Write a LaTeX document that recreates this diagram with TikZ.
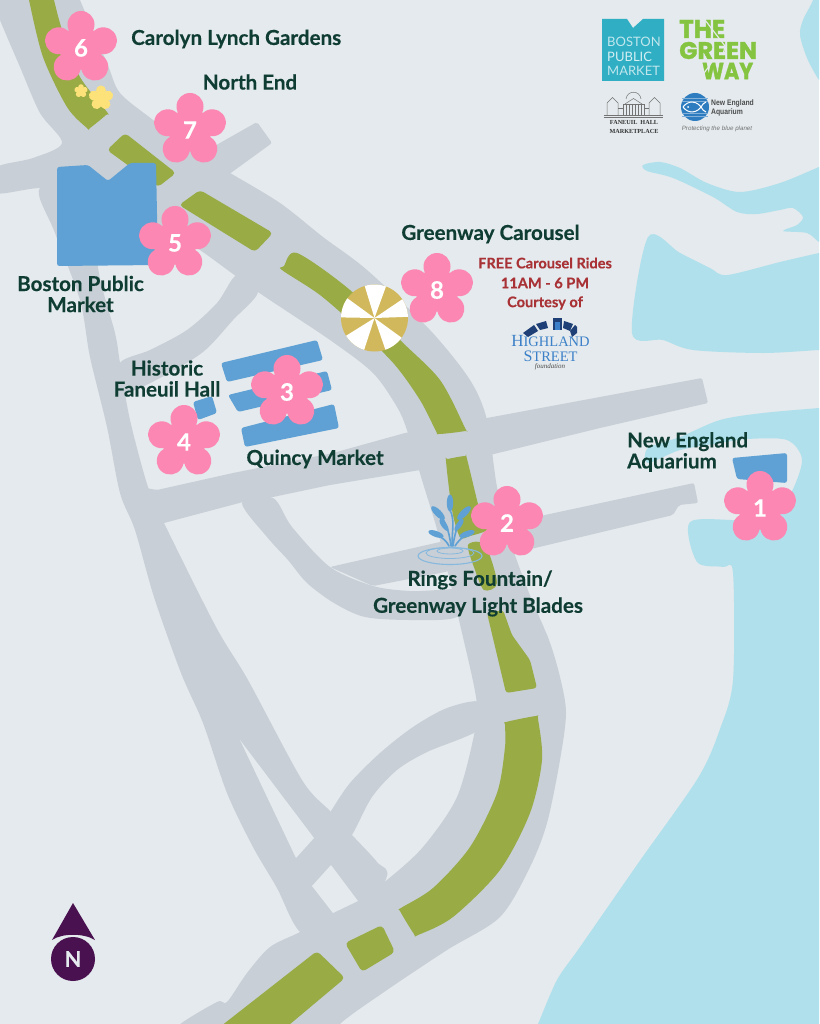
\documentclass[tikz,border=0pt]{standalone}
\usepackage{fontspec}
\setmainfont[BoldFeatures={FakeBold=0.3}]{Lato}
\newfontfamily\serifbit{Liberation Serif}
\newfontfamily\narrowbit{Liberation Sans}
\newfontfamily\heavybit[BoldFeatures={FakeBold=1.5}]{Poppins}
\definecolor{landc}{HTML}{E4EAED}
\definecolor{waterc}{HTML}{B0E0EC}
\definecolor{roadc}{HTML}{C8CFD6}
\definecolor{greenc}{HTML}{98AB45}
\definecolor{blockc}{HTML}{5FA1D4}
\definecolor{pinkc}{HTML}{FC87B2}
\definecolor{labelc}{HTML}{0F3D33}
\definecolor{redc}{HTML}{A83236}
\definecolor{purplec}{HTML}{4A1150}
\definecolor{tealc}{HTML}{2FAEC4}
\definecolor{gwayc}{HTML}{84C441}
\definecolor{goldc}{HTML}{D2B85C}
\definecolor{starc}{HTML}{FDE27A}
\definecolor{navyc}{HTML}{1F3F77}
\definecolor{hblue}{HTML}{3B80C8}
\definecolor{necol}{HTML}{2E7CC0}
\tikzset{
  water/.style={fill=waterc},
  road/.style={fill=roadc},
  park/.style={fill=greenc},
  hole/.style={fill=landc},
  block/.style={fill=blockc,rounded corners=2.5pt},
  maplabel/.style={text=labelc,font=\fontsize{20.6}{21}\selectfont\bfseries,align=center,inner sep=0pt},
  redlabel/.style={text=redc,font=\fontsize{14.6}{16}\selectfont\bfseries,inner sep=0pt},
  num/.style={text=white,font=\fontsize{24}{24}\selectfont\bfseries,inner sep=0pt},
  tiny/.style={inner sep=0pt},
  hall/.style={draw=black!55,line width=.5pt,fill=none},
}
\newcommand{\bloom}[4]{%
  \foreach \a in {0,72,144,216,288}{
    \fill[pinkc,shift={(#2,#3)},rotate=\a] (0,-23.5) circle (13.5);
    \fill[pinkc,shift={(#2,#3)},rotate=\a] (0,-14) ellipse (12.8 and 14);
  }
  \fill[pinkc] (#2,#3) circle (16.5);
  \node[num] (#1) at (#2,#3) {#4};}
\newcommand{\smooth}[2]{\fill[#1] plot[smooth cycle,tension=0.5] coordinates {#2};}
\begin{document}
\begin{tikzpicture}[x=1pt,y=-1pt]
\useasboundingbox (0,0) rectangle (819,1024);
\clip (0,0) rectangle (819,1024);
\fill[landc] (0,0) rectangle (819,1024);
% water
\smooth{water}{(813,-12)(813,0)(803,20)(800,35)(807,58)(819,80)(830,90)(840,90)(840,-12)}
\smooth{water}{(643,165)(660,162)(680,168)(707,183)(740,192)(780,183)(819,167)(830,163)(832,166)(832,240)(830,245)(819,242)(807,233)(783,231)(797,225)(803,217)(793,208)(780,210)(757,214)(737,212)(713,197)(673,178)(647,171)}
\smooth{water}{(648,237)(680,253)(710,268)(727,275)(780,262)(819,253)(830,251)(832,254)(832,347)(830,350)(819,350)(763,353)(693,350)(663,340)(632,333)}
\smooth{water}{(648,448)(680,437)(720,420)(763,413)(819,408)(830,407)(832,410)(832,1040)(830,1045)(535,1045)(535,1030)(538,1024)(557,980)(580,947)(639,862)(698,778)(720,729)(733,680)(733,573)(723,567)(697,562)(690,522)(740,520)(770,515)(790,495)(802,460)(787,440)(747,439)(720,443)(680,450)(648,463)}
% roads
\smooth{road}{(-5,-10)(78,-10)(80,0)(107,63)(120,93)(153,120)(190,150)(230,173)(280,203)(323,237)(367,270)(430,330)(470,380)(487,420)(497,487)(510,540)(529,593)(549,640)(560,677)(566,713)(560,760)(547,823)(530,867)(500,917)(447,950)(387,990)(340,1024)(338,1040)(180,1040)(178,1026)(217,1002)(227,1002)(247,973)(270,947)(300,932)(333,913)(357,902)(387,880)(423,847)(457,797)(475,730)(476,697)(459,620)(440,540)(422,480)(407,430)(397,407)(373,373)(330,340)(258,292)(200,250)(160,225)(130,200)(100,190)(40,188)(-5,193)(-5,168)(33,158)(62,143)(40,113)(20,67)(-5,7)}
\smooth{road}{(40,188)(55,233)(80,300)(90,357)(107,427)(120,493)(135,530)(154,597)(181,673)(203,723)(227,793)(253,847)(277,888)(300,932)(340,950)(386,879)(377,862)(352,835)(330,811)(302,780)(248,680)(216,627)(164,523)(148,487)(130,420)(120,363)(115,333)(98,267)(98,190)}
\smooth{road}{(480,702)(447,708)(413,727)(380,753)(350,783)(331,811)(314,838)(296,858)(285,875)(312,886)(331,865)(352,835)(372,797)(397,770)(427,752)(480,729)}
\smooth{road}{(237,275)(217,303)(187,330)(150,350)(120,363)(125,392)(160,378)(203,352)(233,320)(258,292)}
\fill[road,rounded corners=1.5pt] (140,487) -- (157,490) -- (233,473) -- (333,453) -- (405,433) -- (487,418) -- (702,378) -- (708,403) -- (600,428) -- (490,455) -- (420,470) -- (330,485) -- (273,497) -- (243,502) -- (164,523) -- (135,528) -- cycle;
\fill[road,rounded corners=2pt] (330,567) -- (440,542) -- (545,515) -- (694,483) -- (698,503) -- (679,505) -- (673,515) -- (535,548) -- (445,572) -- (373,586) -- cycle;
\smooth{road}{(242,503)(267,537)(288,560)(307,583)(334,603)(365,617)(411,620)(457,617)(470,590)(440,590)(410,591)(373,586)(330,567)(292,527)(273,498)}
\fill[road,rounded corners=2pt] (190,160) -- (257,122) -- (272,143) -- (228,175) -- (215,185) -- cycle;
% holes
\fill[hole] (240,740) -- (314,838) -- (296,858) -- cycle;
\fill[hole] (331,865) -- (312,886) -- (333,913) -- (358,901) -- cycle;
% greenway
\smooth{park}{(28,-10)(53,-10)(54,0)(63,33)(80,77)(107,112)(106,115)(90,128)(87,128)(67,107)(43,57)(29,0)}
\fill[park,rounded corners=4pt] (125,133) -- (176,173) -- (158,187) -- (107,150) -- cycle;
\fill[park,rounded corners=4pt] (200,190) -- (273,233) -- (255,252) -- (179,205) -- cycle;
\smooth{park}{(297,253)(350,290)(400,340)(440,380)(465,428)(465,431)(439,434)(436,431)(420,400)(395,365)(360,330)(320,295)(282,270)(284,266)}
\smooth{park}{(446,461)(448,459)(465,456)(467,459)(482,520)(487,530)(470,536)(460,537)(452,510)}
\smooth{park}{(468,545)(485,545)(497,583)(484,590)(475,570)}
\fill[park,rounded corners=3pt] (487,613) -- (503,610) -- (512,635) -- (530,660) -- (537,688) -- (506,693) -- (497,655) -- cycle;
\smooth{park}{(505,725)(506,722)(536,716)(538,719)(542,760)(530,813)(500,870)(453,917)(418,935)(414,934)(400,911)(401,908)(433,888)(470,847)(497,793)(505,747)}
\fill[park,rounded corners=4pt] (345,943) -- (382,925) -- (395,952) -- (362,972) -- cycle;
\fill[park,rounded corners=4pt] (317,951) -- (345,978) -- (283,1030) -- (216,1030) -- cycle;
% buildings
\fill[block] (57,167) -- (88,165) -- (108,181) -- (130,163) -- (156,163) -- (158,265) -- (57,266) -- cycle;
\fill[block] (221,363) -- (317,340) -- (323,360) -- (227,382) -- cycle;
\fill[block] (228,395) -- (327,371) -- (332,390) -- (238,412) -- cycle;
\fill[block] (241,428) -- (334,404) -- (339,428) -- (245,447) -- cycle;
\fill[block] (193,402) -- (212,396) -- (217,413) -- (198,420) -- cycle;
\fill[block] (732,458) -- (787,453) -- (787,483) -- (737,479) -- cycle;
% stars
\foreach \a in {0,72,144,216,288}{
  \fill[starc,shift={(81,91)},rotate=\a] (0,-4) circle (2.8);
  \fill[starc,shift={(101,98)},rotate=\a] (0,-7.5) circle (5);
}
\fill[starc] (81,91) circle (3.5);
\fill[starc] (101,98) circle (7);
% carousel
\coordinate (cc) at (374.5,318);
\fill[goldc] (cc) circle (33.5);
\begin{scope}
  \clip (cc) circle (33.5);
  \foreach \p/\q in {107/70,34/2,-36/-71,-108/-148,179/144}
    \fill[white] (cc) -- +(\p:50pt) -- +(\q:50pt) -- cycle;
\end{scope}
% fountain
\begin{scope}[color=blockc,line cap=round]
  \draw[line width=1.1pt,blockc!75!white] (450,556) ellipse (32 and 8.5);
  \draw[line width=.8pt,blockc!75!white] (450,553) ellipse (24 and 5.5);
  \draw[line width=.8pt,blockc!75!white] (450,551) ellipse (13 and 3);
  \draw[line width=1.6pt] (452,546) .. controls (452,530) and (455,520) .. (450,510);
  \draw[line width=1.6pt] (451,546) .. controls (449,530) and (445,518) .. (434,508);
  \draw[line width=1.6pt] (453,546) .. controls (455,530) and (460,518) .. (468,508);
  \draw[line width=1.6pt] (449,546) .. controls (445,538) and (438,535) .. (430,533);
  \draw[line width=1.6pt] (455,546) .. controls (460,538) and (466,535) .. (472,532);
  \fill (450,503) ellipse (3.2 and 8.5);
  \fill[rotate around={45:(438,513)}] (438,513) ellipse (3.4 and 9);
  \fill[rotate around={-45:(464,513)}] (464,513) ellipse (3.4 and 9);
  \fill[rotate around={70:(436,534)}] (436,534) ellipse (3 and 8);
  \fill[rotate around={-70:(467,534)}] (467,534) ellipse (3 and 8);
  \fill[rotate around={35:(444,525)}] (444,525) ellipse (2.6 and 7);
  \fill[rotate around={-35:(459,525)}] (459,525) ellipse (2.6 and 7);
\end{scope}
% flowers
\bloom{f6}{81}{48}{6}
\bloom{f7}{190}{130}{7}
\bloom{f5}{175}{243}{5}
\bloom{f8}{437}{290}{8}
\bloom{f3}{287}{392}{3}
\bloom{f4}{184}{442}{4}
\bloom{f2}{507}{523}{2}
\bloom{f1}{760}{508}{1}
% labels
\node[maplabel,anchor=west] (l6) at (131,39) {Carolyn Lynch Gardens};
\node[maplabel] (l7) at (250,82) {North End};
\node[maplabel] (l5) at (80.5,294) {Boston Public\\Market};
\node[maplabel] (l4) at (167,378.5) {Historic\\Faneuil Hall};
\node[maplabel] (l3) at (315,459) {Quincy Market};
\node[maplabel] (l8) at (490.5,234) {Greenway Carousel};
\node[maplabel,align=left,anchor=west] (l1) at (627,452) {New England\\Aquarium};
\node[maplabel] (l2a) at (480,580) {Rings Fountain/};
\node[maplabel] (l2b) at (478,607) {Greenway Light Blades};
\node[redlabel] (r1) at (545,263) {FREE Carousel Rides};
\node[redlabel] (r2) at (545,283) {11AM - 6 PM};
\node[redlabel] (r3) at (545,303) {Courtesy of};
% Highland logo
\fill[navyc] (523,333) -- (534,325) -- (538,331) -- (528,337) -- cycle;
\fill[navyc] (536,324) -- (546,321) -- (548,328) -- (540,330) -- cycle;
\fill[navyc] (553,318) -- (562,318) -- (562,330) -- (553,330) -- cycle;
\fill[hblue] (555,322) rectangle (560,330);
\fill[navyc] (564,321) -- (573,324) -- (570,331) -- (563,328) -- cycle;
\fill[navyc] (575,325) -- (577,327) -- (577,333) -- (572,337) -- (570,331) -- cycle;
\node[tiny,text=hblue,font=\serifbit] (hl1) at (550.5,341.5) {\fontsize{17}{17}\selectfont H\fontsize{14.5}{17}\selectfont IGHLAND};
\node[tiny,text=hblue,font=\serifbit] (hl2) at (550.5,356) {\fontsize{16}{16}\selectfont S\fontsize{14.5}{16}\selectfont TREET};
\node[tiny,text=black!70,font=\serifbit\itshape\fontsize{7}{7}\selectfont] (hl3) at (550,366.5) {foundation};
% North arrow
\fill[purplec] (73,903) -- (95,940) .. controls (84,933) and (62,933) .. (52,940) -- cycle;
\fill[purplec] (73,959) circle (22);
\node[tiny,text=landc,font=\fontsize{22}{22}\selectfont\bfseries] (north) at (73,959) {N};
% BPM logo
\fill[tealc] (602,19) -- (627,19) -- (633,28) -- (643,19) -- (664,19) -- (664,81) -- (602,81) -- cycle;
\node[tiny,text=white!70!tealc,anchor=west,font=\fontsize{13}{13}\selectfont] (bpm1) at (607,42) {BOSTON};
\node[tiny,text=white!80!tealc,anchor=west,font=\fontsize{13}{13}\selectfont\mdseries] (bpm2) at (607,56.5) {PUBLIC};
\node[tiny,text=white!70!tealc,anchor=west,font=\fontsize{13}{13}\selectfont] (bpm3) at (607,71) {MARKET};
% Greenway logo
\node[tiny,text=gwayc,font=\heavybit\bfseries,anchor=west] (gw1) at (679,29) {\resizebox{46pt}{18pt}{THE}};
\node[tiny,text=gwayc,font=\heavybit\bfseries,anchor=west] (gw2) at (679,50.5) {\resizebox{78pt}{17pt}{GREEN}};
\node[tiny,text=gwayc,font=\heavybit\bfseries,anchor=west] (gw3) at (702,71) {\resizebox{51pt}{16.5pt}{WAY}};
\draw[landc,line width=1.2pt] (705,20) -- (725,46) -- (723,55);
\draw[landc,line width=1.2pt] (712,62) -- (702,76);
% Faneuil Hall logo
\draw[hall] (604,117) -- (663,117) (604,115.5) -- (663,115.5);
\draw[hall] (607,115) -- (607,103) -- (612.5,97.5) -- (618,103) -- (618,115);
\draw[hall] (649,115) -- (649,103) -- (654.5,97.5) -- (660,103) -- (660,115);
\draw[hall] (618,108) -- (623,108) (644,108) -- (649,108);
\draw[hall] (623,115) -- (623,104) -- (644,104) -- (644,115);
\draw[hall] (625,104) -- (633.5,98.5) -- (642,104);
\draw[hall] (626,99) .. controls (627,90) and (640,90) .. (641,99);
\foreach \xx in {626,629,632,635,638,641} \draw[hall] (\xx,105) -- (\xx,115);
\node[tiny,text=black!80,font=\serifbit\bfseries\fontsize{6.2}{6.2}\selectfont] (fh1) at (634,122.5) {FANEUIL\ \ HALL};
\node[tiny,text=black!80,font=\serifbit\bfseries\fontsize{6.2}{6.2}\selectfont] (fh2) at (634,131) {MARKETPLACE};
% Aquarium logo
\fill[necol] (695,107) circle (14);
\foreach \yy in {98,101,113,116} \draw[white!40!necol,line width=.4pt] (682,\yy) -- (708,\yy);
\draw[white,line width=1pt] (683,107) .. controls (688,100) and (698,100) .. (703,110) -- (706,112) (683,107) .. controls (688,114) and (698,114) .. (703,104) -- (706,102);
\fill[white] (688,107) circle (1);
\node[tiny,text=black!70,anchor=west,font=\narrowbit\bfseries\fontsize{8}{8}\selectfont,xscale=.85] (ne1) at (711,103) {New England};
\node[tiny,text=black!70,anchor=west,font=\narrowbit\bfseries\fontsize{8}{8}\selectfont,xscale=.85] (ne2) at (711,112.5) {Aquarium};
\node[tiny,text=black!55,font=\narrowbit\itshape\fontsize{6.2}{6.2}\selectfont] (ne3) at (717,129) {Protecting the blue planet};
\end{tikzpicture}
\end{document}
